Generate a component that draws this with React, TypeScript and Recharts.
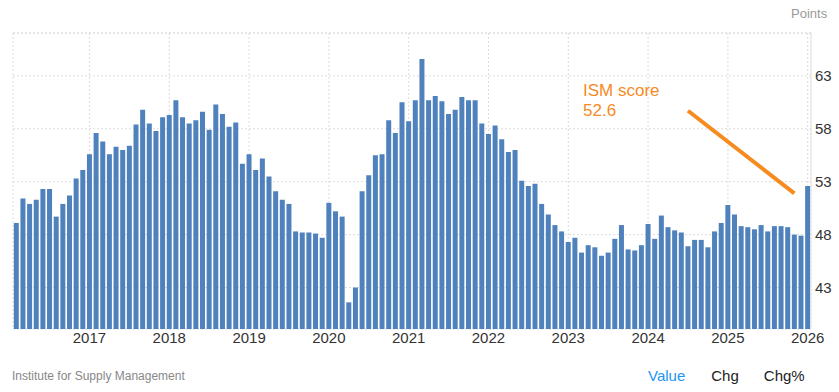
import { Bar, BarChart, CartesianGrid, ReferenceLine, XAxis, YAxis } from 'recharts';

// ISM manufacturing score, monthly, Feb 2016 .. Jan 2026
const pmi2016 = [49.1, 51.4, 50.9, 51.3, 52.3, 52.3, 49.7, 50.9, 51.7, 53.3, 54.1]; // Feb-Dec
const pmi2017 = [55.6, 57.6, 56.8, 55.6, 56.3, 56.0, 56.4, 58.4, 59.8, 58.5, 57.8, 59.1];
const pmi2018 = [59.3, 60.7, 59.1, 58.5, 58.8, 59.6, 57.9, 60.3, 59.4, 58.2, 58.6, 54.7];
const pmi2019 = [55.6, 54.1, 55.2, 53.5, 52.1, 51.3, 50.9, 48.3, 48.2, 48.2, 48.1, 47.7];
const pmi2020 = [51.0, 50.2, 49.7, 41.6, 43.0, 52.1, 53.6, 55.5, 55.6, 58.8, 57.6, 60.5];
const pmi2021 = [58.7, 60.7, 64.6, 60.7, 61.1, 60.6, 59.4, 59.8, 61.0, 60.7, 60.7, 58.5];
const pmi2022 = [57.5, 58.3, 57.0, 55.8, 56.0, 53.1, 52.6, 52.8, 50.9, 49.9, 48.9, 48.3];
const pmi2023 = [47.3, 47.7, 46.3, 47.0, 46.8, 46.0, 46.3, 47.6, 48.9, 46.6, 46.5, 47.0];
const pmi2024 = [49.0, 47.6, 49.8, 48.7, 48.4, 48.2, 46.9, 47.5, 47.5, 46.8, 48.3, 49.1];
const pmi2025 = [50.8, 49.9, 48.8, 48.7, 48.5, 48.9, 48.3, 48.8, 48.8, 48.7, 48.0, 47.9];
const pmi2026 = [52.6];

const seriesByYear: [number, number, number[]][] = [
  [2016, 2, pmi2016],
  [2017, 1, pmi2017],
  [2018, 1, pmi2018],
  [2019, 1, pmi2019],
  [2020, 1, pmi2020],
  [2021, 1, pmi2021],
  [2022, 1, pmi2022],
  [2023, 1, pmi2023],
  [2024, 1, pmi2024],
  [2025, 1, pmi2025],
  [2026, 1, pmi2026],
];

const yearTicks = ['2017-01', '2018-01', '2019-01', '2020-01', '2021-01', '2022-01', '2023-01', '2024-01', '2025-01', '2026-01'];
const valueTicks = [43, 48, 53, 58, 63];
const valueDomain: [number, number] = [39.08, 67.05];

// pointer line of the "ISM score" note
const noteStart = { x: '2024-07', y: 59.7 };
const noteEnd = { x: '2025-11', y: 51.9 };
const noteLabel = 'ISM score';
const latest = pmi2026[pmi2026.length - 1];

const footerTabs = ['Value', 'Chg', 'Chg%'];

const data = seriesByYear.flatMap(([year, firstMonth, values]) =>
  values.map((value, i) => ({
    month: `${year}-${String(firstMonth + i).padStart(2, '0')}`,
    value,
  }))
);

const FONT = '"Liberation Sans", Arial, sans-serif';
const BLUE = '#4f81bd';
const ORANGE = '#f68b1f';

export default function App() {
  return (
    <div
      style={{
        position: 'absolute',
        left: 0,
        top: 0,
        width: 839,
        height: 392,
        background: '#fff',
        fontFamily: FONT,
        overflow: 'hidden',
      }}
    >
      <div style={{ position: 'absolute', left: 791, top: 6, fontSize: 13, color: '#999' }}>Points</div>

      <BarChart
        width={839}
        height={392}
        data={data}
        margin={{ top: 33, right: 0, bottom: 33, left: 13 }}
        barCategoryGap="12%"
      >
        <CartesianGrid yAxisId="right" stroke="#dcdcdc" strokeDasharray="2 2" />
        <XAxis
          dataKey="month"
          ticks={yearTicks}
          interval={0}
          tickFormatter={(m: string) => m.slice(0, 4)}
          tick={{ fontSize: 15, fill: '#333', fontFamily: FONT }}
          tickLine={false}
          axisLine={false}
          tickSize={0}
          tickMargin={3}
          height={30}
        />
        <YAxis
          yAxisId="left"
          orientation="left"
          width={0}
          domain={valueDomain}
          allowDataOverflow
          tick={false}
          tickLine={false}
          axisLine={{ stroke: '#e4e4e4' }}
        />
        <YAxis
          yAxisId="right"
          orientation="right"
          width={28}
          domain={valueDomain}
          allowDataOverflow
          ticks={valueTicks}
          interval={0}
          tick={{ fontSize: 15, fill: '#333', fontFamily: FONT, textAnchor: 'start' }}
          tickLine={false}
          tickSize={0}
          tickMargin={4}
          axisLine={{ stroke: '#e4e4e4' }}
        />
        <ReferenceLine yAxisId="right" y={valueDomain[1]} stroke="#dcdcdc" strokeDasharray="2 2" />
        <Bar yAxisId="right" dataKey="value" fill={BLUE} isAnimationActive={false} />
        <ReferenceLine
          yAxisId="right"
          segment={[noteStart, noteEnd]}
          stroke={ORANGE}
          strokeWidth={4}
        />
      </BarChart>

      <div
        style={{
          position: 'absolute',
          left: 583,
          top: 81,
          fontSize: 17,
          lineHeight: '20px',
          color: ORANGE,
        }}
      >
        <div>{noteLabel}</div>
        <div>{latest.toFixed(1)}</div>
      </div>

      <div style={{ position: 'absolute', left: 12, top: 369, fontSize: 12, color: '#888' }}>
        Institute for Supply Management
      </div>
      <div style={{ position: 'absolute', left: 648, top: 367, display: 'flex', fontSize: 15 }}>
        {footerTabs.map((t, i) => (
          <span
            key={t}
            style={{ color: i === 0 ? '#2196f3' : '#222', marginRight: i === 0 ? 26 : 25 }}
          >
            {t}
          </span>
        ))}
      </div>
    </div>
  );
}
